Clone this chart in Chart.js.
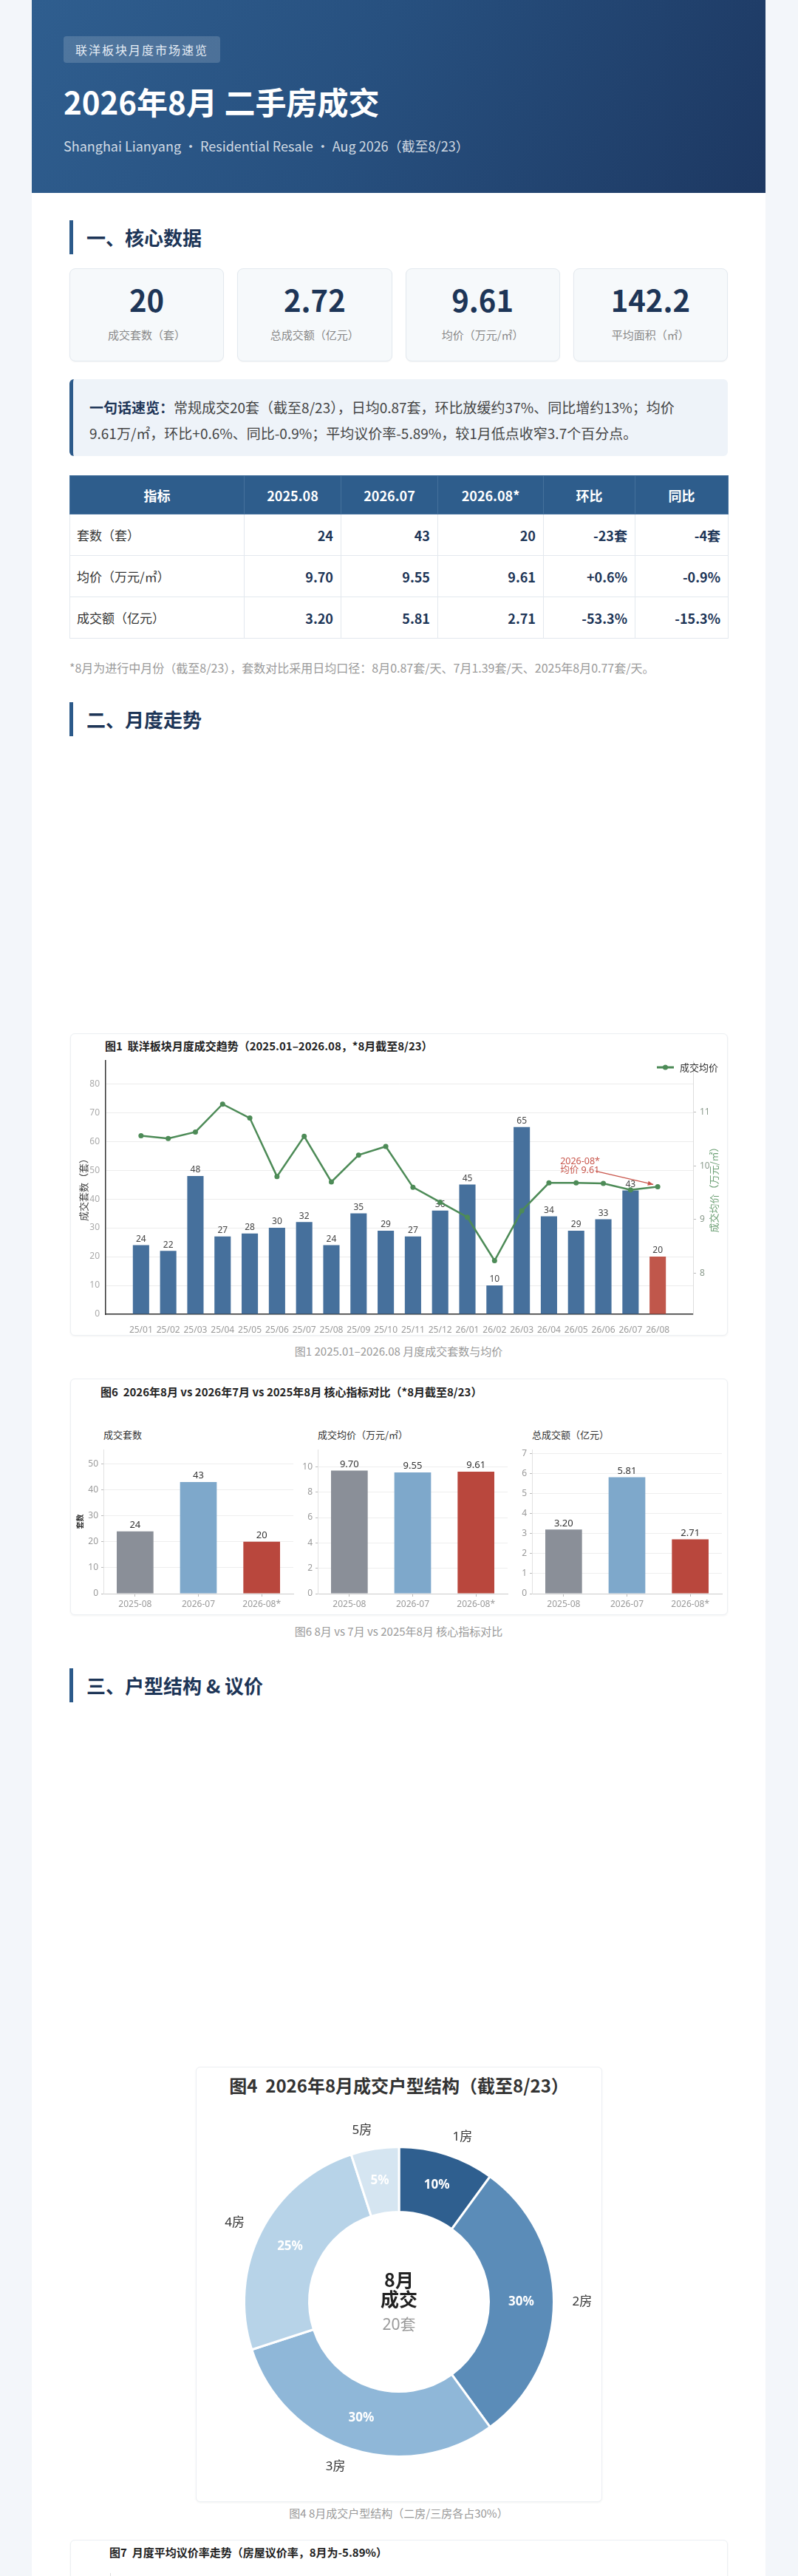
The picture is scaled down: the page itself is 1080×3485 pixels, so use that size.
<!DOCTYPE html>
<html lang="zh-CN">
<head>
<meta charset="utf-8">
<title>联洋板块 2026年8月 二手房成交</title>
<script src="https://cdn.jsdelivr.net/npm/chart.js@4.4.1/dist/chart.umd.min.js"></script>
<style>
  * { box-sizing: border-box; margin: 0; padding: 0; }
  body { background: #f3f6fa; width: 1080px; font-family: "Noto Sans CJK SC", "Noto Sans", sans-serif; color: #333; }
  .page { position: relative; width: 993px; height: 3900px; margin-left: 43px; background: #fff; }
  .abs { position: absolute; }
  .hero { left: 0; top: 0; width: 993px; height: 261px; background: linear-gradient(115deg, #2f5e8f 0%, #27507f 45%, #1d3862 100%); }
  .badge { left: 43px; top: 49px; height: 36px; line-height: 36px; padding: 0 16px; font-size: 16px; letter-spacing: 2px; color: #e6edf5; background: rgba(255,255,255,.16); border-radius: 4px; }
  .hero h1 { position: absolute; left: 43px; top: 112px; font-size: 42px; line-height: 50px; color: #fff; font-weight: 700; }
  .hero .sub { position: absolute; left: 43px; top: 185px; font-size: 18px; line-height: 24px; color: rgba(255,255,255,.8); white-space: nowrap; }
  .h2 { left: 51px; height: 46px; border-left: 5px solid #2c5a8a; padding-left: 18px; font-size: 26px; line-height: 46px; font-weight: 700; color: #1d3557; }
  .kpis { left: 51px; top: 363px; width: 891px; height: 126px; display: grid; grid-template-columns: repeat(4, 1fr); gap: 18px; }
  .kpi { background: #f6f9fb; border: 1px solid #e3e9ef; border-radius: 8px; text-align: center; box-shadow: 0 1px 2px rgba(0,0,0,.04); }
  .kpi .num { margin-top: 18px; font-size: 40px; line-height: 46px; font-weight: 700; color: #1d3557; }
  .kpi .lab { margin-top: 14px; font-size: 15px; line-height: 22px; color: #888; }
  .summary { left: 51px; top: 513px; width: 891px; height: 104px; background: #eef3f9; border-left: 5px solid #2c5a8a; border-radius: 6px; padding: 20px 20px 0 22px; font-size: 19px; line-height: 35px; color: #444; white-space: nowrap; }
  .summary b { color: #1d3557; }
  table.tbl { left: 51px; top: 643px; width: 891px; border-collapse: collapse; font-size: 18px; table-layout: fixed; }
  .tbl th { height: 52px; background: #2e5d8c; color: #fff; font-weight: 700; border: 1px solid #45719c; text-align: center; }
  .tbl td { height: 56px; border: 1px solid #e3e8ee; padding: 0 10px; text-align: right; font-weight: 700; color: #1d3557; }
  .tbl td:first-child { text-align: left; font-weight: 400; font-size: 17px; color: #333; padding-left: 9px; }
  .note { left: 51px; top: 891px; font-size: 16px; line-height: 24px; color: #9a9a9a; white-space: nowrap; }
  .card { background: #fff; border: 1px solid #eceff3; border-radius: 6px; box-shadow: 0 1px 3px rgba(0,0,0,.05); }
  .card canvas { position: absolute; }
  .ctitle { position: absolute; font-size: 15px; line-height: 22px; font-weight: 700; color: #222; white-space: nowrap; }
  .stitle { position: absolute; font-size: 13px; line-height: 22px; color: #333; white-space: nowrap; }
  .cap { left: 0; width: 993px; text-align: center; font-size: 15px; line-height: 24px; color: #999; }
</style>
</head>
<body>
<div class="page">
  <div class="abs hero">
    <div class="abs badge">联洋板块月度市场速览</div>
    <h1>2026年8月 二手房成交</h1>
    <div class="sub">Shanghai Lianyang · Residential Resale · Aug 2026（截至8/23）</div>
  </div>

  <div class="abs h2" style="top:298px">一、核心数据</div>
  <div class="abs kpis">
    <div class="kpi"><div class="num">20</div><div class="lab">成交套数（套）</div></div>
    <div class="kpi"><div class="num">2.72</div><div class="lab">总成交额（亿元）</div></div>
    <div class="kpi"><div class="num">9.61</div><div class="lab">均价（万元/㎡）</div></div>
    <div class="kpi"><div class="num">142.2</div><div class="lab">平均面积（㎡）</div></div>
  </div>
  <div class="abs summary"><b>一句话速览：</b>常规成交20套（截至8/23），日均0.87套，环比放缓约37%、同比增约13%；均价<br>9.61万/㎡，环比+0.6%、同比-0.9%；平均议价率-5.89%，较1月低点收窄3.7个百分点。</div>
  <table class="abs tbl">
    <colgroup><col style="width:236px"><col style="width:131px"><col style="width:131px"><col style="width:143px"><col style="width:124px"><col style="width:126px"></colgroup>
    <tr><th>指标</th><th>2025.08</th><th>2026.07</th><th>2026.08*</th><th>环比</th><th>同比</th></tr>
    <tr><td>套数（套）</td><td>24</td><td>43</td><td>20</td><td>-23套</td><td>-4套</td></tr>
    <tr><td>均价（万元/㎡）</td><td>9.70</td><td>9.55</td><td>9.61</td><td>+0.6%</td><td>-0.9%</td></tr>
    <tr><td>成交额（亿元）</td><td>3.20</td><td>5.81</td><td>2.71</td><td>-53.3%</td><td>-15.3%</td></tr>
  </table>
  <div class="abs note">*8月为进行中月份（截至8/23），套数对比采用日均口径：8月0.87套/天、7月1.39套/天、2025年8月0.77套/天。</div>

  <div class="abs h2" style="top:950px">二、月度走势</div>

  <div class="abs card" style="left:52px; top:1398px; width:890px; height:409px">
    <div class="ctitle" style="left:46px; top:5px">图1&nbsp; 联洋板块月度成交趋势（2025.01–2026.08，*8月截至8/23）</div>
    <canvas id="trend" width="888" height="407" style="left:0; top:0"></canvas>
  </div>
  <div class="abs cap" style="top:1816px">图1 2025.01–2026.08 月度成交套数与均价</div>

  <div class="abs card" style="left:52px; top:1865px; width:890px; height:320px">
    <div class="ctitle" style="left:40px; top:6px">图6&nbsp; 2026年8月 vs 2026年7月 vs 2025年8月 核心指标对比（*8月截至8/23）</div>
    <div class="stitle" style="left:44px; top:64px">成交套数</div>
    <div class="stitle" style="left:334px; top:64px">成交均价（万元/㎡）</div>
    <div class="stitle" style="left:624px; top:64px">总成交额（亿元）</div>
    <canvas id="cmpCount" width="305" height="234" style="left:-1px; top:84px"></canvas>
    <canvas id="cmpPrice" width="305" height="234" style="left:289px; top:84px"></canvas>
    <canvas id="cmpAmount" width="305" height="234" style="left:579px; top:84px"></canvas>
  </div>
  <div class="abs cap" style="top:2195px">图6 8月 vs 7月 vs 2025年8月 核心指标对比</div>

  <div class="abs h2" style="top:2257px">三、户型结构 &amp; 议价</div>

  <div class="abs card" style="left:222px; top:2796px; width:550px; height:589px">
    <div class="ctitle" style="left:0; width:548px; text-align:center; top:7px; font-size:24px; line-height:34px; color:#333">图4&nbsp; 2026年8月成交户型结构（截至8/23）</div>
    <canvas id="rooms" width="548" height="587" style="left:0; top:0"></canvas>
  </div>
  <div class="abs cap" style="top:3388px">图4 8月成交户型结构（二房/三房各占30%）</div>

  <div class="abs card" style="left:52px; top:3436px; width:890px; height:400px">
    <div class="ctitle" style="left:52px; top:5px">图7&nbsp; 月度平均议价率走势（房屋议价率，8月为-5.89%）</div>
    <canvas id="bargain" width="888" height="370" style="left:0; top:29px"></canvas>
  </div>
</div>

<script>
// ---- data ----
const months = ["25/01","25/02","25/03","25/04","25/05","25/06","25/07","25/08","25/09","25/10",
                "25/11","25/12","26/01","26/02","26/03","26/04","26/05","26/06","26/07","26/08"];
const dealCount = [24, 22, 48, 27, 28, 30, 32, 24, 35, 29, 27, 36, 45, 10, 65, 34, 29, 33, 43, 20];
const avgPrice = [10.56, 10.51, 10.63, 11.15, 10.89, 9.80, 10.55, 9.70, 10.20, 10.36,
                  9.60, 9.32, 9.04, 8.23, 9.16, 9.68, 9.68, 9.67, 9.55, 9.61];

const cmpLabels = ["2025-08", "2026-07", "2026-08*"];
const cmpCount = [24, 43, 20];
const cmpPrice = [9.70, 9.55, 9.61];
const cmpAmount = [3.20, 5.81, 2.71];

const roomTypes = ["1房", "2房", "3房", "4房", "5房"];
const roomDeals = [2, 6, 6, 5, 1];

// 议价率：只标了1月低点和8月
const bargainRate = [null, null, null, null, null, null, null, null, null, null,
                     null, null, -9.59, null, null, null, null, null, null, -5.89];

const BLUE = "#46709c";
const RED = "#c0574b";
const GREEN = "#4d8b57";

Chart.defaults.font.family = '"Noto Sans", "Noto Sans CJK SC", sans-serif';
Chart.defaults.animation = false;

// value labels on top of bars
const barValues = {
  id: "barValues",
  afterDatasetDraw(chart, args, opts) {
    if (args.meta.type !== "bar") return;
    const ctx = chart.ctx;
    const ds = chart.data.datasets[args.index];
    ctx.save();
    ctx.font = (opts.size || 12) + 'px "Noto Sans", "Noto Sans CJK SC", sans-serif';
    ctx.fillStyle = opts.color || "#444";
    ctx.textAlign = "center";
    ctx.textBaseline = "bottom";
    args.meta.data.forEach((bar, i) => {
      let v = ds.data[i];
      if (v && typeof v === "object") v = v.y;
      ctx.fillText(opts.format ? opts.format(v) : v, bar.x, bar.y - 2);
    });
    ctx.restore();
  }
};

// legend, right axis title and the 8月 note for fig 1
const trendExtras = {
  id: "trendExtras",
  afterDraw(chart) {
    const {ctx, chartArea, scales} = chart;
    ctx.save();
    ctx.font = '13px "Noto Sans CJK SC", sans-serif';
    ctx.textBaseline = "middle";
    const legendText = "成交均价";
    const tw = ctx.measureText(legendText).width;
    const tx = chart.width - 12 - tw;
    const ly = 45;
    ctx.fillStyle = "#333";
    ctx.fillText(legendText, tx, ly);
    ctx.strokeStyle = GREEN;
    ctx.lineWidth = 3;
    ctx.beginPath();
    ctx.moveTo(tx - 31, ly);
    ctx.lineTo(tx - 8, ly);
    ctx.stroke();
    ctx.fillStyle = GREEN;
    ctx.beginPath();
    ctx.arc(tx - 19.5, ly, 3.5, 0, Math.PI * 2);
    ctx.fill();

    // right title, reads bottom to top like the left one
    ctx.save();
    ctx.translate(chart.width - 18, (chartArea.top + chartArea.bottom) / 2);
    ctx.rotate(-Math.PI / 2);
    ctx.textAlign = "center";
    ctx.fillStyle = "#6a9e72";
    ctx.fillText("成交均价（万元/㎡）", 0, 0);
    ctx.restore();

    // note on the last point
    const last = avgPrice.length - 1;
    const px = scales.x.getPixelForValue(last);
    const py = scales.y1.getPixelForValue(avgPrice[last]);
    ctx.fillStyle = "#c8554b";
    ctx.font = '12.5px "Noto Sans", "Noto Sans CJK SC", sans-serif';
    ctx.textAlign = "left";
    ctx.fillText("2026-08*", px - 132, py - 34);
    ctx.fillText("均价 9.61", px - 132, py - 22);
    const ax = px - 84, ay = py - 21, bx = px - 6, by = py - 3;
    ctx.strokeStyle = "#c8554b";
    ctx.lineWidth = 1.3;
    ctx.beginPath();
    ctx.moveTo(ax, ay);
    ctx.lineTo(bx, by);
    ctx.stroke();
    const ang = Math.atan2(by - ay, bx - ax);
    ctx.beginPath();
    ctx.moveTo(bx, by);
    ctx.lineTo(bx - 8 * Math.cos(ang - 0.4), by - 8 * Math.sin(ang - 0.4));
    ctx.lineTo(bx - 8 * Math.cos(ang + 0.4), by - 8 * Math.sin(ang + 0.4));
    ctx.closePath();
    ctx.fill();
    ctx.restore();
  }
};

new Chart(document.getElementById("trend"), {
  type: "bar",
  data: {
    datasets: [
      {
        type: "line",
        label: "成交均价",
        data: avgPrice.map((v, i) => ({x: i, y: v})),
        yAxisID: "y1",
        borderColor: GREEN,
        backgroundColor: GREEN,
        borderWidth: 2.5,
        pointRadius: 3.5,
        pointBackgroundColor: GREEN,
        pointBorderWidth: 0,
        tension: 0,
        order: 0
      },
      {
        label: "成交套数",
        data: dealCount.map((v, i) => ({x: i, y: v})),
        yAxisID: "y",
        backgroundColor: dealCount.map((v, i) => i === dealCount.length - 1 ? RED : BLUE),
        categoryPercentage: 1,
        barPercentage: 0.6,
        order: 1
      }
    ]
  },
  options: {
    responsive: false,
    layout: { padding: { top: 36, right: 0, bottom: 0, left: 0 } },
    plugins: {
      legend: { display: false },
      tooltip: { enabled: false },
      barValues: { size: 12, color: "#444" }
    },
    scales: {
      x: {
        type: "linear",
        offset: false,
        min: -1.3,
        max: months.length - 1 + 1.3,
        afterFit: (s) => { s.height = 28; },
        grid: { display: false },
        border: { display: true, color: "#333", width: 1.5 },
        ticks: {
          stepSize: 1, includeBounds: false, autoSkip: false, maxRotation: 0,
          padding: 6, color: "#999", font: { size: 12 },
          callback: (v) => months[v] !== undefined ? months[v] : ""
        }
      },
      y: {
        position: "left",
        min: 0,
        max: 88,
        afterFit: (s) => { s.width = 47; },
        grid: { color: "#ececec", drawTicks: false },
        border: { color: "#333", width: 1.5 },
        ticks: { stepSize: 10, includeBounds: false, padding: 8, color: "#aaa", font: { size: 12 } },
        title: { display: true, text: "成交套数（套）", color: "#444", font: { size: 13, family: '"Noto Sans CJK SC", sans-serif' }, padding: { top: 9 } }
      },
      y1: {
        position: "right",
        min: 7.23,
        max: 11.96,
        afterFit: (s) => { s.width = 46; },
        grid: { drawOnChartArea: false, drawTicks: true, tickLength: 4, color: "#bbb" },
        border: { color: "#ddd", width: 1 },
        ticks: { stepSize: 1, includeBounds: false, padding: 5, color: "#8a9a8c", font: { size: 12 } }
      }
    }
  },
  plugins: [barValues, trendExtras]
});

// fig 6: three small bar charts
const cmpColors = ["#8a8f98", "#7ea8cb", "#b9473d"];

function compareChart(id, values, max, step, fmt, yTitle) {
  return new Chart(document.getElementById(id), {
    type: "bar",
    data: {
      labels: cmpLabels,
      datasets: [{
        data: values,
        backgroundColor: cmpColors,
        categoryPercentage: 1,
        barPercentage: 0.58
      }]
    },
    options: {
      responsive: false,
      layout: { padding: { top: 5, right: 3 } },
      plugins: {
        legend: { display: false },
        tooltip: { enabled: false },
        barValues: { size: 13, color: "#333", format: fmt }
      },
      scales: {
        x: {
          offset: true,
          afterFit: (s) => { s.height = 28; },
          grid: { display: true, offset: false, drawOnChartArea: false, drawTicks: true, tickLength: 4, tickColor: "#bbb" },
          border: { color: "#ccc", width: 1 },
          ticks: { padding: 3, color: "#999", font: { size: 12 } }
        },
        y: {
          min: 0,
          max: max,
          afterFit: (s) => { s.width = 45; },
          grid: { color: "#eee", drawTicks: true, tickLength: 3, tickColor: "#bbb" },
          border: { color: "#e2e2e2", width: 1 },
          ticks: { stepSize: step, includeBounds: false, padding: 4, color: "#999", font: { size: 12 } },
          title: { display: !!yTitle, text: yTitle || "", color: "#333", font: { size: 10, weight: "bold", family: '"Noto Sans CJK SC", sans-serif' }, padding: { top: 7 } }
        }
      }
    },
    plugins: [barValues]
  });
}

compareChart("cmpCount", cmpCount, 55.5, 10, (v) => v, "套数");
compareChart("cmpPrice", cmpPrice, 11.35, 2, (v) => v.toFixed(2));
compareChart("cmpAmount", cmpAmount, 7.19, 1, (v) => v.toFixed(2));

// fig 4: doughnut
const donutLabels = {
  id: "donutLabels",
  afterDatasetsDraw(chart) {
    const ctx = chart.ctx;
    const meta = chart.getDatasetMeta(0);
    const total = roomDeals.reduce((a, b) => a + b, 0);
    ctx.save();
    ctx.textBaseline = "middle";
    meta.data.forEach((arc, i) => {
      const mid = (arc.startAngle + arc.endAngle) / 2;
      const rMid = (arc.innerRadius + arc.outerRadius) / 2;
      ctx.font = 'bold 17px "Noto Sans", "Noto Sans CJK SC", sans-serif';
      ctx.fillStyle = "#fff";
      ctx.textAlign = "center";
      ctx.fillText(Math.round(roomDeals[i] / total * 100) + "%", arc.x + Math.cos(mid) * rMid, arc.y + Math.sin(mid) * rMid);
      const rOut = arc.outerRadius + 25;
      ctx.font = '17px "Noto Sans", "Noto Sans CJK SC", sans-serif';
      ctx.fillStyle = "#333";
      ctx.textAlign = Math.cos(mid) >= 0 ? "left" : "right";
      ctx.fillText(roomTypes[i], arc.x + Math.cos(mid) * rOut, arc.y + Math.sin(mid) * rOut);
    });
    const c = meta.data[0];
    ctx.textAlign = "center";
    ctx.fillStyle = "#222";
    ctx.font = 'bold 25px "Noto Sans CJK SC", sans-serif';
    ctx.fillText("8月", c.x, c.y - 30);
    ctx.fillText("成交", c.x, c.y - 4);
    ctx.fillStyle = "#999";
    ctx.font = '21px "Noto Sans", "Noto Sans CJK SC", sans-serif';
    ctx.fillText(total + "套", c.x, c.y + 32);
    ctx.restore();
  }
};

new Chart(document.getElementById("rooms"), {
  type: "doughnut",
  data: {
    labels: roomTypes,
    datasets: [{
      data: roomDeals,
      backgroundColor: ["#2f5f8f", "#5b8cb8", "#8fb7d8", "#b7d3e8", "#d5e5f1"],
      borderColor: "#fff",
      borderWidth: 3
    }]
  },
  options: {
    responsive: false,
    cutout: "58%",
    layout: { padding: { top: 106, bottom: 59, left: 62, right: 62 } },
    plugins: { legend: { display: false }, tooltip: { enabled: false } }
  },
  plugins: [donutLabels]
});

// fig 7: bargaining rate
new Chart(document.getElementById("bargain"), {
  type: "line",
  data: {
    labels: months,
    datasets: [{
      data: bargainRate,
      borderColor: BLUE,
      backgroundColor: BLUE,
      borderWidth: 2.5,
      pointRadius: 3.5,
      spanGaps: true
    }]
  },
  options: {
    responsive: false,
    layout: { padding: { top: 4, right: 8 } },
    plugins: { legend: { display: false }, tooltip: { enabled: false } },
    scales: {
      x: {
        grid: { display: false },
        border: { color: "#ccc" },
        ticks: { color: "#999", font: { size: 12 }, maxRotation: 0, autoSkip: false }
      },
      y: {
        min: -12,
        max: 0.5,
        afterFit: (s) => { s.width = 53; },
        grid: { color: "#e6e6e6", drawTicks: false },
        border: { color: "#ddd" },
        ticks: { stepSize: 2, includeBounds: false, padding: 8, color: "#999", font: { size: 12 } }
      }
    }
  }
});
</script>
</body>
</html>
